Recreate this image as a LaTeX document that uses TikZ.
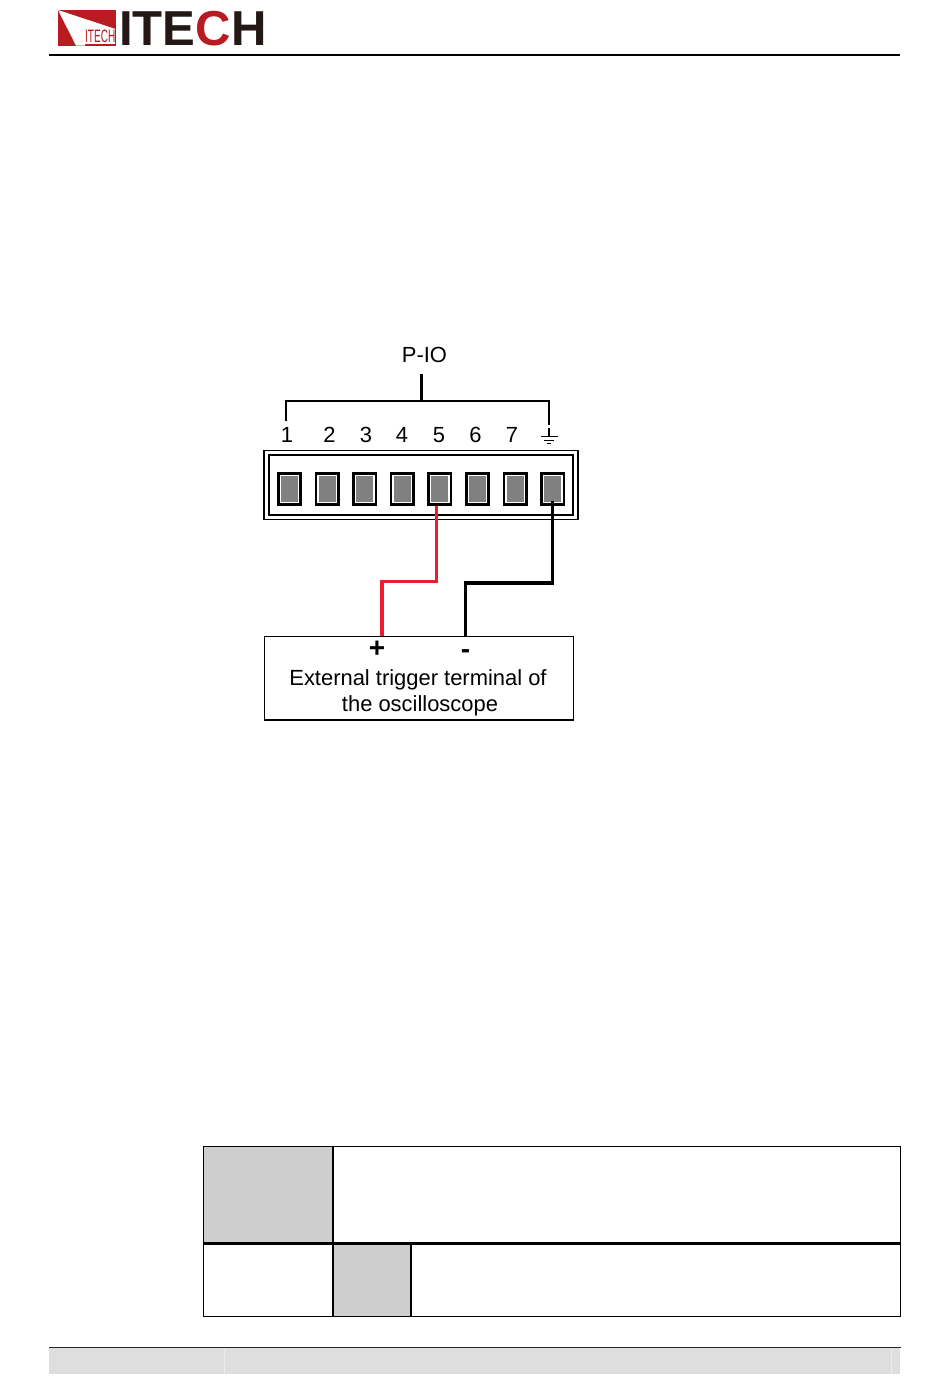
\documentclass[tikz,border=0pt]{standalone}
\usepackage{fontspec}
\setmainfont{Liberation Sans}
\usetikzlibrary{positioning}
\definecolor{logored}{HTML}{B81C22}
\definecolor{logodark}{HTML}{231815}
\definecolor{wirered}{HTML}{ED1C2E}
\definecolor{pingray}{HTML}{808080}
\definecolor{cellgray}{HTML}{CECECE}
\definecolor{bandgray}{HTML}{DEDEDE}
\tikzset{
    numlabel/.style={inner sep=0pt, font=\fontsize{16.45}{19}\selectfont},
    pinframe/.style={
        draw=black, line width=1.9pt, fill=white, inner sep=0pt,
        minimum width=16.85pt, minimum height=23.6pt
    },
    pincore/.style={
        fill=pingray, inner sep=0pt,
        minimum width=12.75pt, minimum height=19.5pt
    },
    cell/.style={
        draw=black, line width=1.15pt, anchor=north west, inner sep=0pt
    },
}

\begin{document}
\begin{tikzpicture}[
    x=0.75pt, y=-0.75pt,
    brace/.style={draw=black, line width=1.7pt},
    wire/.style={line width=2.5pt},
]
\useasboundingbox (0,0) rectangle (950,1397);
\fill[white] (0,0) rectangle (950,1397);

% ============ Header ============

\node[fill=logored, inner sep=0pt, minimum width=43.5pt, minimum height=27pt,
    anchor=north west] (logo) at (58,10) {};
\fill[white] (logo.north west) -- (115.5,29) -- (85,29) -- (85,45.5) -- (76,45.5) -- cycle;
\node[fill=white, text=logored, inner sep=0pt, minimum width=22.5pt, minimum height=11.5pt,
    anchor=south east] (logosmall) at (115.5,44.5) {};
\node[text=logored, inner sep=0pt, xscale=0.56, font=\fontsize{13.5}{13.5}\selectfont]
    at (logosmall) {ITECH};
\node[text=logodark, inner sep=0pt, anchor=base west,
    font=\fontsize{36.8}{37}\selectfont\bfseries] (brand) at (119,45)
    {ITE{\color{logored}C}H};
\coordinate (ruleL) at (49,54.5);
\coordinate (ruleR) at (900,54.5);
\draw[line width=1.5pt] (ruleL) -- (ruleR);

% ============ Connector ============

\node[draw=black, line width=1pt, inner sep=0pt, minimum width=235.5pt, minimum height=52pt]
    (shell) at (421,485) {};
\node[draw=black, line width=1.6pt, inner sep=0pt, minimum width=228.5pt, minimum height=44.5pt]
    (socket) at (421,485) {};

\node[pinframe] (pin1) at (289.5,489) {};
\node[pinframe, right=9.45pt of pin1] (pin2) {};
\node[pinframe, right=9.45pt of pin2] (pin3) {};
\node[pinframe, right=9.45pt of pin3] (pin4) {};
\node[pinframe, right=9.45pt of pin4] (pin5) {};
\node[pinframe, right=9.45pt of pin5] (pin6) {};
\node[pinframe, right=9.45pt of pin6] (pin7) {};
\node[pinframe, right=9.45pt of pin7] (pin8) {};
\node[pincore] at (pin1) {};
\node[pincore] at (pin2) {};
\node[pincore] at (pin3) {};
\node[pincore] at (pin4) {};
\node[pincore] at (pin5) {};
\node[pincore] at (pin6) {};
\node[pincore] at (pin7) {};
\node[pincore] at (pin8) {};

% Labels
\node[numlabel] (num1) at (287,435) {1};
\node[numlabel] (num2) at (329.5,435) {2};
\node[numlabel] (num3) at (366,435) {3};
\node[numlabel] (num4) at (402,435) {4};
\node[numlabel] (num5) at (439,435) {5};
\node[numlabel] (num6) at (475.5,435) {6};
\node[numlabel] (num7) at (512,435) {7};
\node[numlabel] (pio) at (424.5,355) {P-IO};

% ============ Bracket ============

\coordinate (stemtop) at (421.5,373.5);
\coordinate (brmid) at (421.5,401);
\coordinate (brL) at (285.7,420.5);
\coordinate (brR) at (548.7,425);
\draw[brace] (brL) |- (brmid) -| (brR);
\draw[brace] (stemtop) -- (brmid);

% Ground
\coordinate (gnd) at (549,436.7);
\draw[line width=1pt] (549,428) -- (gnd);
\draw[line width=1pt] (541,436.7) -- (557.5,436.7);
\draw[line width=1pt] (544,440.3) -- (554,440.3);
\draw[line width=1pt] (547,443.8) -- (551,443.8);

% ============ Oscilloscope ============

\node[draw=black, line width=1.1pt, inner sep=0pt, minimum width=232pt, minimum height=62.5pt,
    anchor=north west] (scope) at (263.5,635.8) {};
\node[numlabel] (line1) at (418,680) {External trigger terminal of};
\node[numlabel, below=3.95pt of line1, xshift=1.5pt] (line2) {the oscilloscope};
\node[inner sep=0pt, font=\fontsize{21}{21}\selectfont\bfseries] (plus) at (377,649) {+};
\node[inner sep=0pt, font=\fontsize{21}{21}\selectfont\bfseries] (minus) at (465.5,654) {-};

% ============ Wires ============

\coordinate (redbend) at (382,581.5);
\coordinate (blackbend) at (465.5,583);
\coordinate (redstart) at (436.5,506);
\coordinate (blackstart) at (552.5,501);
\draw[wire, wirered] (redstart) |- (redbend) -- (redbend |- scope.north);
\draw[wire, black] (blackstart) |- (blackbend) -- (blackbend |- scope.north);

% ============ Table ============

\node[cell, fill=cellgray, minimum width=96.9pt, minimum height=72.5pt] (head) at (202.5,1145.5) {};
\node[cell, minimum width=425.3pt, minimum height=72.5pt] (headtext) at (332.5,1145.5) {};
\node[cell, minimum width=96.9pt, minimum height=54.1pt] (foot) at (202.5,1243.5) {};
\node[cell, fill=cellgray, minimum width=57.9pt, minimum height=54.1pt] (footgray) at (332.5,1243.5) {};
\node[cell, minimum width=366.8pt, minimum height=54.1pt] (foottext) at (410.5,1243.5) {};

% ============ Footer ============

\node[fill=bandgray, inner sep=0pt, minimum width=638.25pt, minimum height=20pt,
    anchor=north west] (band) at (49,1347.5) {};
\draw[line width=1.2pt, black!85] (band.north west) -- (band.north east);
\draw[line width=0.5pt, white!92!black] (224,1349) -- (224,1374);
\draw[line width=0.5pt, white!92!black] (891.5,1349) -- (891.5,1374);

\end{tikzpicture}
\end{document}
